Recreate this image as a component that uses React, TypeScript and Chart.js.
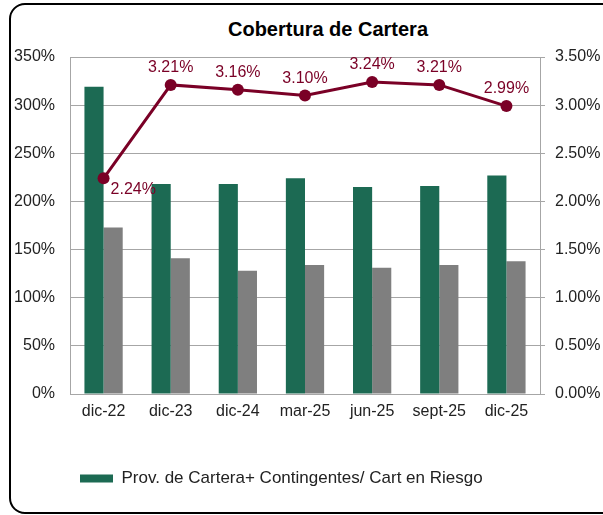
import React, { useEffect, useRef } from "react";
import { Chart, registerables } from "chart.js";

Chart.register(...registerables);

const categories = ["dic-22", "dic-23", "dic-24", "mar-25", "jun-25", "sept-25", "dic-25"];
const provCartera = [319, 218, 218, 224, 215, 216, 227];
const segundaSerie = [173, 141, 128, 134, 131, 134, 138];
const coberturaLinea = [2.24, 3.21, 3.16, 3.10, 3.24, 3.21, 2.99];
const leftTicks = [0, 50, 100, 150, 200, 250, 300, 350];
const rightTicks = [0, 0.5, 1, 1.5, 2, 2.5, 3, 3.5];

const titleText = "Cobertura de Cartera";
const legendLabel = "Prov. de Cartera+ Contingentes/ Cart en Riesgo";

const FONT = "'Liberation Sans', Arial, sans-serif";
const GREEN = "#1C6A53";
const GRAY = "#7F7F7F";
const MAROON = "#7A0026";
const GRID = "#A6A6A6";

const lineLabels = {
  id: "lineLabels",
  afterDatasetsDraw(chart: any) {
    const meta = chart.getDatasetMeta(2);
    const ctx = chart.ctx;
    ctx.save();
    ctx.font = `16px ${FONT}`;
    ctx.fillStyle = MAROON;
    meta.data.forEach((pt: any, i: number) => {
      const text = coberturaLinea[i].toFixed(2) + "%";
      if (i === 0) {
        ctx.textAlign = "left";
        ctx.textBaseline = "top";
        ctx.fillText(text, pt.x + 7, pt.y + 3);
      } else {
        ctx.textAlign = "center";
        ctx.textBaseline = "alphabetic";
        ctx.fillText(text, pt.x, pt.y - 13);
      }
    });
    ctx.restore();
  },
};

export default function App() {
  const ref = useRef<HTMLCanvasElement>(null);

  useEffect(() => {
    if (!ref.current) return;
    const chart = new Chart(ref.current, {
      type: "bar",
      data: {
        labels: categories,
        datasets: [
          {
            type: "bar",
            label: legendLabel,
            data: provCartera,
            backgroundColor: GREEN,
            borderWidth: 0,
            yAxisID: "y",
            order: 2,
            categoryPercentage: 0.57,
            barPercentage: 1,
          },
          {
            type: "bar",
            label: "serie2",
            data: segundaSerie,
            backgroundColor: GRAY,
            borderWidth: 0,
            yAxisID: "y",
            order: 2,
            categoryPercentage: 0.57,
            barPercentage: 1,
          },
          {
            type: "line",
            label: "linea",
            data: coberturaLinea,
            borderColor: MAROON,
            backgroundColor: MAROON,
            borderWidth: 3,
            pointRadius: 6,
            pointBackgroundColor: MAROON,
            pointBorderWidth: 0,
            yAxisID: "y2",
            order: 0,
          } as any,
        ],
      },
      options: {
        responsive: false,
        animation: false,
        layout: { padding: { left: 8, right: 0, top: 57, bottom: 18 } },
        plugins: {
          title: { display: false },
          tooltip: { enabled: false },
          legend: {
            position: "bottom",
            align: "start",
            fullSize: false,
            labels: {
              filter: (item: any) => item.datasetIndex === 0,
              boxWidth: 33,
              boxHeight: 8,
              padding: 10,
              color: "#222",
              font: { family: FONT, size: 17 },
            },
          },
        },
        scales: {
          x: {
            grid: { display: false, drawTicks: false },
            border: { display: true, color: GRID },
            ticks: { color: "#222", font: { family: FONT, size: 16 }, padding: 8 },
            afterFit: (s: any) => {
              s.height = 66;
            },
          },
          y: {
            position: "left",
            min: 0,
            max: 350,
            afterBuildTicks: (s: any) => {
              s.ticks = leftTicks.map((v) => ({ value: v }));
            },
            ticks: {
              color: "#222",
              font: { family: FONT, size: 16 },
              padding: 15,
              callback: (v: any) => v + "%",
            },
            grid: { color: GRID, drawTicks: false },
            border: { display: true, color: GRID },
            afterFit: (s: any) => {
              s.width = 62;
            },
          },
          y2: {
            position: "right",
            min: 0,
            max: 3.5,
            afterBuildTicks: (s: any) => {
              s.ticks = rightTicks.map((v) => ({ value: v }));
            },
            ticks: {
              color: "#222",
              font: { family: FONT, size: 16 },
              padding: 10,
              callback: (v: any) => Number(v).toFixed(2) + "%",
            },
            grid: { drawOnChartArea: false, drawTicks: true, tickLength: 5, color: GRID },
            border: { display: true, color: GRID },
            afterFit: (s: any) => {
              s.width = 63;
            },
          },
        },
      },
      plugins: [lineLabels],
    });
    return () => chart.destroy();
  }, []);

  return (
    <div
      style={{
        position: "fixed",
        left: 0,
        top: 0,
        width: 603,
        height: 515,
        overflow: "hidden",
        background: "#fff",
      }}
    >
      <div
        style={{
          position: "absolute",
          left: 9,
          top: 3,
          width: 660,
          height: 507,
          border: "2px solid #000",
          borderRadius: 16,
          boxSizing: "content-box",
        }}
      />
      <div
        style={{
          position: "absolute",
          left: 0,
          top: 17,
          width: 656,
          textAlign: "center",
          fontFamily: FONT,
          fontWeight: "bold",
          fontSize: 20,
          lineHeight: "24px",
          color: "#000",
        }}
      >
        {titleText}
      </div>
      <canvas
        ref={ref}
        width={603}
        height={515}
        style={{ position: "absolute", left: 0, top: 0, width: 603, height: 515 }}
      />
    </div>
  );
}
